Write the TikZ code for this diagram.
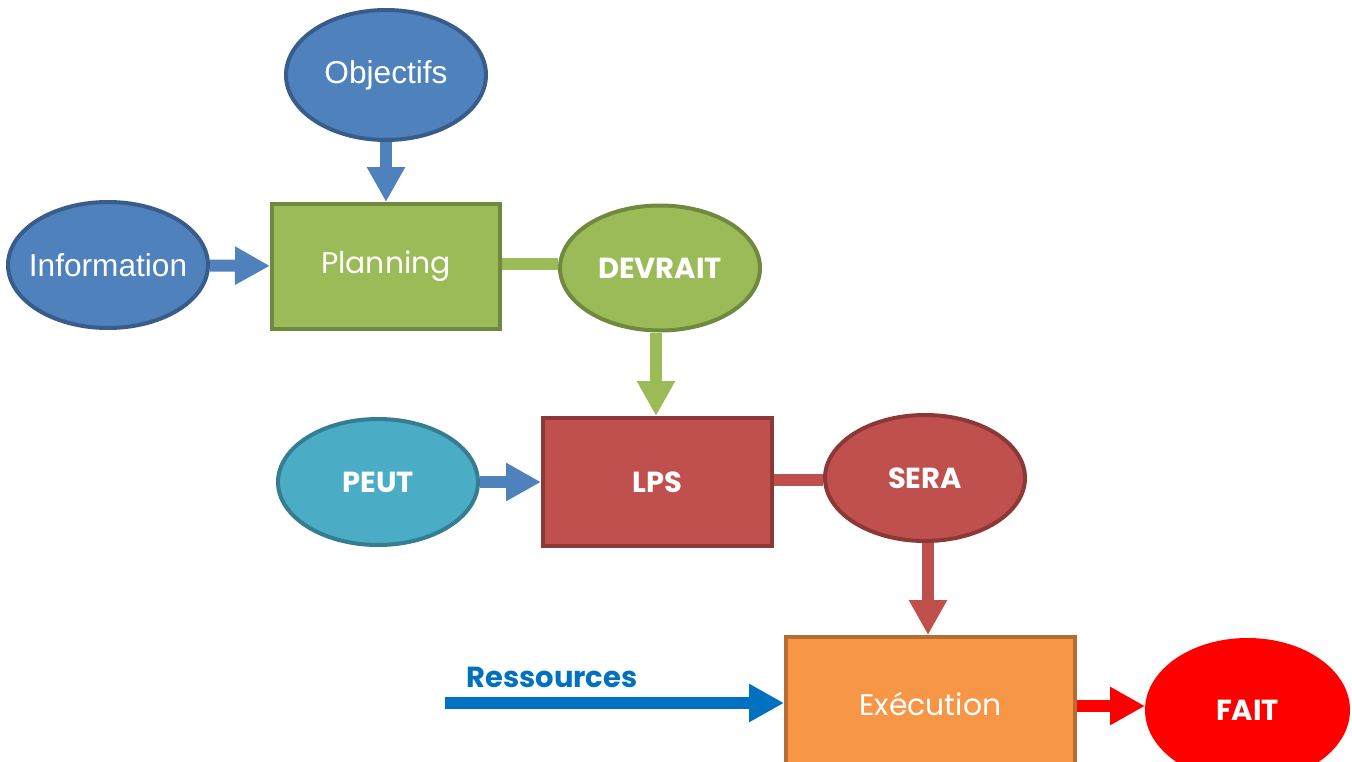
\documentclass[tikz,border=0pt]{standalone}
\usepackage{fontspec}
\setmainfont{Liberation Sans}
\newfontfamily\gothic{Poppins}
\usetikzlibrary{arrows.meta,shapes.geometric}
\definecolor{blueFill}{HTML}{4F81BD}
\definecolor{blueLine}{HTML}{385D8A}
\definecolor{greenFill}{HTML}{9BBB59}
\definecolor{greenLine}{HTML}{71893F}
\definecolor{redFill}{HTML}{C0504D}
\definecolor{redLine}{HTML}{8C3836}
\definecolor{aquaFill}{HTML}{4BACC6}
\definecolor{aquaLine}{HTML}{357D91}
\definecolor{orangeFill}{HTML}{F79646}
\definecolor{orangeLine}{HTML}{B66D31}
\definecolor{resBlue}{HTML}{0070C0}
\tikzset{blob/.style={
    ellipse, draw, line width=0.08cm,
    minimum width=4cm, minimum height=2.52cm,
    inner xsep=-0.8cm, inner ysep=0pt, text=white,
  },
  box/.style={
    rectangle, draw, line width=0.08cm,
    inner sep=0pt, text=white,
  },
  style blue/.style={fill=blueFill, draw=blueLine},
  style green/.style={fill=greenFill, draw=greenLine},
  style red/.style={fill=redFill, draw=redLine},
  style aqua/.style={fill=aquaFill, draw=aquaLine},
  style orange/.style={fill=orangeFill, draw=orangeLine},
  plain txt/.style={font=\fontsize{18}{20}\selectfont},
  thin txt/.style={font=\gothic\fontsize{17}{20}\selectfont},
  bold txt/.style={font=\gothic\bfseries\fontsize{16.5}{19}\selectfont},
  flow/.style={line width=0.24cm, draw=#1, -{Triangle[length=0.7cm,width=0.72cm]}},
  link/.style={line width=0.24cm, draw=#1}
}

\begin{document}
\begin{tikzpicture}
  \useasboundingbox (0,0) rectangle (27.04,-15.24);

  % -- The planning stage.
  \node[blob, style blue, plain txt, minimum height=2.6cm] (obj) at (7.72,-1.50) {Objectifs};
  \node[blob, style blue, plain txt] (info) at (2.16,-5.30) {Information};
  \node[box, style green, thin txt, minimum width=4.56cm, minimum height=2.5cm] (plan) at (7.72,-5.33) {Planning};
  \node[blob, style green, bold txt, minimum height=2.5cm] (dev) at (13.20,-5.36) {DEVRAIT};

  % -- The LPS stage.
  \node[blob, style aqua, bold txt] (peut) at (7.56,-9.64) {PEUT};
  \node[box, style red, bold txt, minimum width=4.58cm, minimum height=2.56cm] (lps) at (13.15,-9.64) {LPS};
  \node[blob, style red, bold txt] (sera) at (18.50,-9.56) {SERA};

  % -- The execution stage.
  \node[box, style orange, thin txt, minimum width=5.78cm, minimum height=2.66cm] (exe) at (18.61,-14.07) {Exécution};
  \node[blob, fill=red, draw=red, bold txt, minimum width=4.02cm, minimum height=2.8cm] (fait) at (24.95,-14.20) {FAIT};
  \coordinate (res) at (8.90,-14.06);
  \node[bold txt, text=resBlue] (reslabel) at (11.04,-13.54) {Ressources};

  % -- We draw the connectors.
  \draw[flow=blueFill] (obj) -- (plan);
  \draw[flow=blueFill] (info) -- (plan);
  \draw[link=greenFill] (plan.east |- 0,-5.28) -- (dev.west |- 0,-5.28);
  \draw[flow=greenFill] (dev.south -| 13.12,0) -- (lps.north -| 13.12,0);
  \draw[flow=blueFill] (peut) -- (lps);
  \draw[link=redFill] (lps.east |- 0,-9.60) -- (sera.west |- 0,-9.60);
  \draw[flow=redFill] (sera.south -| 18.56,0) -- (exe.north -| 18.56,0);
  \draw[flow=red] (exe.east |- 0,-14.12) -- (fait.west |- 0,-14.12);
  \draw[flow=resBlue] (res) -- (res -| exe.west);
\end{tikzpicture}
\end{document}
